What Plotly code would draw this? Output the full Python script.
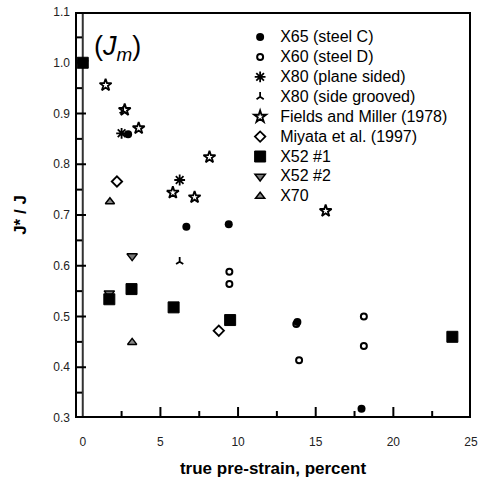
import plotly.graph_objects as go

# ---- data ----
x65_x = [2.92, 6.67, 9.4, 13.82, 17.95]
x65_y = [0.859, 0.677, 0.682, 0.489, 0.318]

x60_x = [9.44, 9.44, 13.75, 13.93, 18.1, 18.1]
x60_y = [0.588, 0.564, 0.485, 0.414, 0.500, 0.442]

x80ps_x = [2.5, 6.24]
x80ps_y = [0.861, 0.769]

x80sg_x = [2.6, 6.24]
x80sg_y = [0.905, 0.608]

fm_x = [1.47, 2.7, 3.6, 5.8, 7.2, 8.16, 15.64]
fm_y = [0.956, 0.907, 0.871, 0.744, 0.735, 0.814, 0.708]

miy_x = [2.2, 8.76]
miy_y = [0.766, 0.472]

x52a_x = [0.0, 1.71, 3.14, 5.85, 9.49, 23.8]
x52a_y = [1.0, 0.534, 0.554, 0.518, 0.493, 0.460]

x52b_x = [0.0, 1.71, 3.18]
x52b_y = [1.0, 0.546, 0.619]

x70_x = [0.0, 1.75, 3.18]
x70_y = [1.0, 0.726, 0.449]

# axis ranges and tick positions (major / minor)
x_range = [-0.5, 25]
y_range = [0.3, 1.1]
x_major = [5, 10, 15, 20]
x_minor = [2.5, 7.5, 12.5, 17.5, 22.5]
y_major = [0.4, 0.5, 0.6, 0.7, 0.8, 0.9, 1.0]
y_minor = [0.35, 0.45, 0.55, 0.65, 0.75, 0.85, 0.95, 1.05]

FONT = "Liberation Sans, Arial, sans-serif"

fig = go.Figure()

def add(name, xs, ys, symbol, size, color="black", line_color="black", lw=1.5):
    fig.add_trace(go.Scatter(
        x=xs, y=ys, mode="markers",
        name='<span style="font-size:16px">' + name + "</span>",
        marker=dict(symbol=symbol, size=size, color=color,
                    line=dict(color=line_color, width=lw)),
    ))

add("X70", x70_x, x70_y, "triangle-up", 8, color="#888888", lw=1.5)
add("X52 #2", x52b_x, x52b_y, "triangle-down", 9, color="#777777", lw=1.5)
add("X52 #1", x52a_x, x52a_y, "square", 11, color="black", lw=1)
add("Miyata et al. (1997)", miy_x, miy_y, "diamond-open", 8, color="black", lw=1.8)
add("Fields and Miller (1978)", fm_x, fm_y, "star-open", 9, color="black", lw=1.8)
add("X80 (side grooved)", x80sg_x, x80sg_y, "y-up-open", 6, color="black", lw=1.8)
add("X80 (plane sided)", x80ps_x, x80ps_y, "asterisk-open", 9, color="black", lw=1.8)
add("X60 (steel D)", x60_x, x60_y, "circle-open", 6, color="black", lw=2)
add("X65 (steel C)", x65_x, x65_y, "circle", 8, color="black", lw=0)

# pixel -> data unit conversions for tick lengths
PX_X = (x_range[1] - x_range[0]) / 396.0
PX_Y = (y_range[1] - y_range[0]) / 406.0
x0, x1 = x_range
y0, y1 = y_range

shapes = [
    # vertical zero line
    dict(type="line", xref="x", yref="y", x0=0, x1=0, y0=y0, y1=y1,
         line=dict(color="#333333", width=2), layer="below"),
    # frame (data-referenced so it sits in the subplot layer)
    dict(type="line", xref="x", yref="y", x0=x0, x1=x1, y0=y0, y1=y0, line=dict(color="#000000", width=4), layer="between"),
    dict(type="line", xref="x", yref="y", x0=x0, x1=x1, y0=y1, y1=y1, line=dict(color="#000000", width=4), layer="between"),
    dict(type="line", xref="x", yref="y", x0=x0, x1=x0, y0=y0, y1=y1, line=dict(color="#000000", width=4), layer="between"),
    dict(type="line", xref="x", yref="y", x0=x1, x1=x1, y0=y0, y1=y1, line=dict(color="#000000", width=4), layer="between"),
]
for v in x_major:
    shapes.append(dict(type="line", xref="x", yref="y", x0=v, x1=v, y0=y0, y1=y0 + 11 * PX_Y,
                       line=dict(color="#000000", width=2), layer="between"))
for v in x_minor:
    shapes.append(dict(type="line", xref="x", yref="y", x0=v, x1=v, y0=y0, y1=y0 + 7 * PX_Y,
                       line=dict(color="#000000", width=2), layer="between"))
for v in y_major:
    shapes.append(dict(type="line", xref="x", yref="y", x0=x0, x1=x0 + 11 * PX_X, y0=v, y1=v,
                       line=dict(color="#000000", width=2), layer="between"))
for v in y_minor:
    shapes.append(dict(type="line", xref="x", yref="y", x0=x0, x1=x0 + 7 * PX_X, y0=v, y1=v,
                       line=dict(color="#000000", width=2), layer="between"))

fig.update_layout(
    template="none",
    width=480, height=484,
    margin=dict(l=75, r=9, t=12, b=66),
    paper_bgcolor="white", plot_bgcolor="rgba(0,0,0,0)",
    font=dict(family=FONT, size=13, color="black"),
    showlegend=True,
    legend=dict(
        x=0.417, y=0.975, xanchor="left", yanchor="top",
        traceorder="reversed",
        bgcolor="rgba(0,0,0,0)", borderwidth=0,
        font=dict(family=FONT, size=13, color="black"),
        tracegroupgap=0,
    ),
    xaxis=dict(
        range=x_range, dtick=5, tick0=0,
        showline=False, showgrid=False, zeroline=False, ticks="",
        tickfont=dict(family=FONT, size=12, color="#222222"),
        ticklabelstandoff=15,
        title=dict(text="<b>true pre-strain, percent</b>", font=dict(family=FONT, size=17), standoff=14),
    ),
    yaxis=dict(
        range=y_range, dtick=0.1, tick0=0.3, tickformat=".1f",
        showline=False, showgrid=False, zeroline=False, ticks="",
        tickfont=dict(family=FONT, size=12, color="#222222"),
        ticklabelstandoff=4,
        title=dict(text="<b>J* / J</b>", font=dict(family=FONT, size=17), standoff=22),
    ),
    shapes=shapes,
    annotations=[dict(
        x=0.62, y=1.03, xref="x", yref="y", xanchor="left", yanchor="middle",
        text="(<i>J</i><sub><i>m</i></sub>)", showarrow=False,
        font=dict(family=FONT, size=27, color="black"),
    )],
)

fig.write_html("out.html")
